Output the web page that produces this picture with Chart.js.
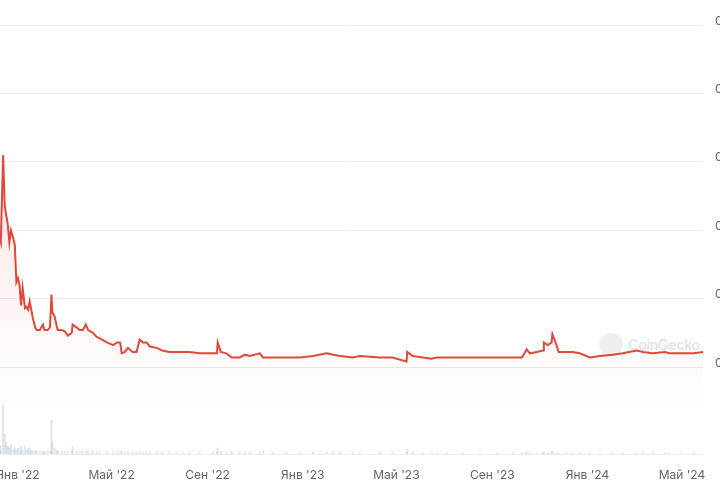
<!DOCTYPE html>
<html lang="ru">
<head>
    <meta charset="UTF-8">
    <title>График цены</title>
    <script src="https://cdn.jsdelivr.net/npm/chart.js"></script>
    <style>
        html, body { margin: 0; padding: 0; background: #fff; width: 720px; height: 480px; overflow: hidden; }
        #wrap { position: absolute; left: -40px; top: 0; width: 800px; height: 480px; z-index: 2; }
        #logo { position: absolute; left: 599px; top: 333px; width: 24px; height: 24px; border-radius: 50%; background: rgba(215,215,215,0.4); z-index: 1; }
        #mark { position: absolute; left: 628px; top: 336px; font: 500 14.5px Inter, sans-serif; letter-spacing: -0.5px; color: rgba(200,200,200,0.55); z-index: 1; }
    </style>
</head>
<body>
    <div id="logo"></div>
    <div id="mark">CoinGecko</div>
    <div id="wrap"><canvas id="priceChart"></canvas></div>

    <script>
        // price points
        const dates = [
            '2021-12-09','2021-12-10','2021-12-13','2021-12-15','2021-12-17','2021-12-19','2021-12-21','2021-12-23','2021-12-26','2021-12-28','2021-12-30',
            '2022-01-01','2022-01-03','2022-01-05','2022-01-07','2022-01-10','2022-01-12','2022-01-14','2022-01-16','2022-01-18','2022-01-20','2022-01-23','2022-01-25','2022-01-29',
            '2022-02-02','2022-02-04','2022-02-08','2022-02-11','2022-02-13','2022-02-14','2022-02-17','2022-02-20','2022-02-21','2022-02-26',
            '2022-03-02','2022-03-06','2022-03-11','2022-03-12','2022-03-17','2022-03-21','2022-03-25','2022-03-29',
            '2022-04-01','2022-04-07','2022-04-12','2022-04-16','2022-04-25',
            '2022-05-03','2022-05-08','2022-05-12','2022-05-14','2022-05-18','2022-05-22','2022-05-28',
            '2022-06-02','2022-06-06','2022-06-10','2022-06-15','2022-06-19','2022-06-28',
            '2022-07-05','2022-07-14','2022-07-23','2022-07-31','2022-08-09','2022-08-22',
            '2022-09-08','2022-09-13','2022-09-14','2022-09-18','2022-09-25',
            '2022-10-02','2022-10-12','2022-10-19','2022-10-25','2022-11-07','2022-11-11','2022-11-23','2022-12-11','2022-12-28',
            '2023-01-14','2023-02-01','2023-02-09','2023-02-18','2023-03-06','2023-03-15','2023-04-10','2023-04-26','2023-05-14','2023-05-15','2023-05-22',
            '2023-06-04','2023-06-15','2023-06-22','2023-07-05','2023-07-25','2023-08-16','2023-09-07','2023-09-27','2023-10-09','2023-10-15','2023-10-19','2023-10-28',
            '2023-11-05','2023-11-06','2023-11-11','2023-11-16','2023-11-17','2023-11-21','2023-11-25','2023-12-05','2023-12-13','2023-12-22',
            '2024-01-04','2024-01-17','2024-02-02','2024-02-15','2024-03-04','2024-03-12','2024-03-25','2024-04-09','2024-04-15','2024-04-29','2024-05-16','2024-05-28'
        ];
        const prices = [
            0.143,0.141,0.205,0.168,0.161,0.154,0.141,0.150,0.144,0.139,0.112,
            0.115,0.110,0.095,0.108,0.093,0.094,0.092,0.098,0.092,0.086,0.079,0.077,0.077,
            0.081,0.077,0.077,0.079,0.103,0.090,0.087,0.079,0.077,0.077,
            0.076,0.073,0.075,0.081,0.079,0.077,0.077,0.081,
            0.077,0.075,0.072,0.071,0.068,
            0.066,0.068,0.068,0.060,0.061,0.064,0.061,
            0.061,0.070,0.068,0.068,0.065,0.064,
            0.062,0.061,0.061,0.061,0.061,0.060,
            0.060,0.060,0.068,0.061,0.060,
            0.057,0.057,0.059,0.058,0.060,0.057,0.057,0.057,0.057,
            0.058,0.060,0.059,0.058,0.057,0.058,0.057,0.057,0.054,0.061,0.058,
            0.057,0.056,0.057,0.057,0.057,0.057,0.057,0.057,0.057,0.063,0.060,0.061,
            0.062,0.068,0.066,0.068,0.074,0.068,0.061,0.061,0.061,0.060,
            0.057,0.058,0.059,0.060,0.062,0.061,0.060,0.061,0.060,0.060,0.060,0.061
        ];
        // trading volume, same dates (millions)
        const volumes = [
            4,8,49,20,12,8,6,10,5,6,4,
            6,5,7,4,8,4,5,6,4,3,4,3,3,
            3,2,3,3,34,12,6,4,3,3,
            3,3,3,7,3,3,3,3,
            3,3,2,2,2,
            2,2,2,3,2,2,2,
            2,3,2,2,2,2,
            2,2,2,2,2,2,
            2,2,6,3,2,
            3,2,2,2,2,3,2,2,2,
            2,2,2,2,2,2,2,2,2,5,2,
            1,1,1,1,1,1,1,1,1,2,1,1,
            1,2,1,2,3,1,1,1,1,1,
            1,1,1,1,1,1,1,1,1,1,1,1
        ];
        const tickDates = ['2022-01-01','2022-05-01','2022-09-01','2023-01-01','2023-05-01','2023-09-01','2024-01-01','2024-05-01'];
        const tickLabels = ["Янв '22","Май '22","Сен '22","Янв '23","Май '23","Сен '23","Янв '24","Май '24"];
        const priceTicks = [0.05, 0.10, 0.15, 0.20, 0.25, 0.30];

        const dayOf = s => (Date.parse(s) - Date.parse('2022-01-01')) / 864e5;
        const noPad = s => { s.paddingTop = 0; s.paddingBottom = 0; s.paddingLeft = 0; s.paddingRight = 0; };

        const lineColor = '#e0483c';
        const ctx = document.getElementById('priceChart').getContext('2d');

        new Chart(ctx, {
            data: {
                datasets: [{
                    type: 'line',
                    data: dates.map((d, i) => ({ x: dayOf(d), y: prices[i] })),
                    borderColor: lineColor,
                    borderWidth: 2,
                    pointRadius: 0,
                    tension: 0,
                    fill: 'start',
                    backgroundColor: (c) => {
                        const area = c.chart.chartArea;
                        if (!area) return 'rgba(224,72,60,0.08)';
                        const g = c.chart.ctx.createLinearGradient(0, area.top + 150, 0, area.bottom - 40);
                        g.addColorStop(0, 'rgba(224,72,60,0.13)');
                        g.addColorStop(1, 'rgba(224,72,60,0)');
                        return g;
                    },
                    yAxisID: 'y',
                    order: 1
                }, {
                    type: 'bar',
                    data: dates.map((d, i) => ({ x: dayOf(d), y: volumes[i] })),
                    backgroundColor: 'rgba(175,185,205,0.35)',
                    barThickness: 1.5,
                    yAxisID: 'y2',
                    order: 2
                }]
            },
            options: {
                responsive: true,
                maintainAspectRatio: false,
                animation: false,
                layout: { padding: { left: 40, right: 0, top: 0, bottom: 0 } },
                plugins: { legend: { display: false }, tooltip: { enabled: false } },
                scales: {
                    x: {
                        type: 'linear',
                        offset: false,
                        min: dayOf(dates[0]),
                        max: dayOf(dates[dates.length - 1]),
                        afterBuildTicks: scale => { scale.ticks = tickDates.map(d => ({ value: dayOf(d) })); },
                        afterFit: scale => { scale.height = 26; noPad(scale); },
                        grid: { display: false },
                        border: { display: true, color: '#ececec' },
                        ticks: {
                            autoSkip: false,
                            maxRotation: 0,
                            padding: 6,
                            color: '#5f6670',
                            font: { family: 'Inter', size: 12 },
                            callback: (v, i) => tickLabels[i]
                        }
                    },
                    y: {
                        position: 'right',
                        min: 0.05 - 87 / 1368,
                        max: 0.30 + 25 / 1368,
                        afterBuildTicks: scale => { scale.ticks = priceTicks.map(v => ({ value: v })); },
                        afterFit: scale => { scale.width = 57; noPad(scale); },
                        grid: { color: '#ececec', drawTicks: false },
                        border: { display: false },
                        ticks: {
                            padding: 12,
                            labelOffset: -4,
                            color: '#5f6670',
                            font: { family: 'Inter', size: 12 },
                            callback: v => v.toFixed(2)
                        }
                    },
                    y2: {
                        position: 'right',
                        display: false,
                        min: 0,
                        max: 454,
                        afterFit: noPad
                    }
                }
            }
        });
    </script>
</body>
</html>
